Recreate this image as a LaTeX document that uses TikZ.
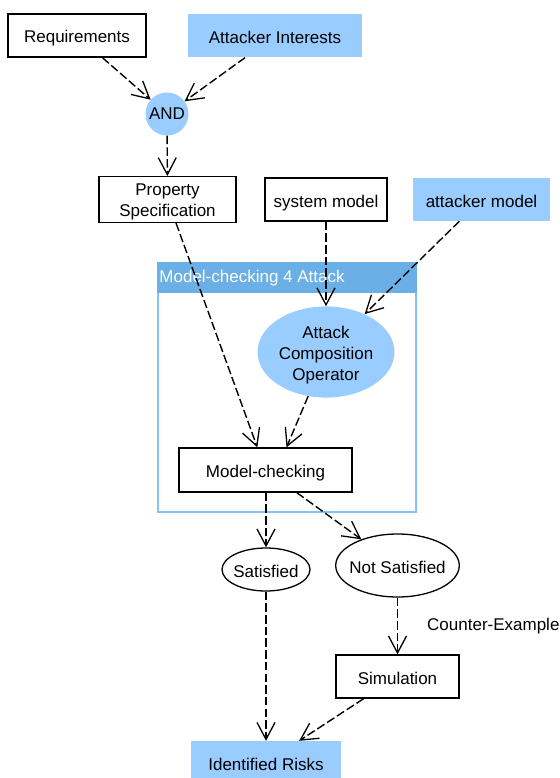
\documentclass[tikz,border=0pt]{standalone}
\usepackage{fontspec}
\setmainfont{Liberation Sans}
\usetikzlibrary{arrows.meta,shapes.geometric}

\definecolor{lightblue}{HTML}{99CCFF}
\definecolor{headblue}{HTML}{6AAFE6}
\definecolor{frameblue}{HTML}{86C2F2}

% primeira linha mais alta, para baixar o texto
\newcommand{\lineup}[1]{\rule{0pt}{#1}}

\tikzset{
    oneline/.style={text height=18.5pt, text depth=3.5pt},
    box/.style={draw, line width=1.3pt, minimum height=43pt, align=center},
    bluebox/.style={fill=lightblue, minimum height=43pt, align=center},
    oval/.style={ellipse, draw, line width=1.3pt, inner ysep=0pt, oneline},
    flow/.style={line width=1.4pt, dash pattern=on 8.5pt off 3.2pt,
        -{Straight Barb[length=17pt,width=18pt,line width=1.3pt]}}
}

\begin{document}
\begin{tikzpicture}[x=1pt, y=-1pt, inner sep=2pt, font=\fontsize{17}{21.2}\selectfont]
        \clip (0,0) rectangle (559,778);
        % Entradas
        \node[box, oneline, minimum width=138pt] (req) at (77,35.5) {Requirements};
        \node[bluebox, oneline, minimum width=174pt] (interests) at (275,36) {Attacker Interests};
        \node[circle, fill=lightblue, minimum size=43pt, inner sep=0pt] (and) at (167,114) {AND};
        \node[box, minimum width=137pt] (prop) at (167.5,199.5) {\lineup{17pt}Property\\Specification};
        \node[box, oneline, minimum width=122pt] (sysmodel) at (326,199.5) {system model};
        \node[bluebox, oneline, minimum width=137pt] (attmodel) at (481.5,199.5) {attacker model};

        % Caixa Model-checking 4 Attack
        \node[draw=frameblue, line width=1.5pt, minimum width=258pt, minimum height=249pt] (frame) at (287,387.5) {};
        \fill[headblue] (frame.north west) rectangle ([yshift=-31pt]frame.north east);
        \node[anchor=west, text=white] (frametitle) at ([yshift=-15.5pt]frame.north west) {Model-checking 4 Attack};
        \node[ellipse, fill=lightblue, minimum width=137pt, minimum height=82pt, inner sep=0pt, align=center] (aco) at (326,352) {\lineup{18.5pt}Attack\\Composition\\Operator};
        \node[box, oneline, minimum width=173pt, minimum height=44pt] (mc) at (265.5,470) {Model-checking};

        % Resultados
        \node[oval, inner xsep=-2pt, minimum width=88pt, minimum height=43pt] (sat) at (266,569.5) {Satisfied};
        \node[oval, inner xsep=-4.5pt, minimum width=123pt, minimum height=63pt] (notsat) at (397.5,565.5) {Not Satisfied};
        \node[box, oneline, minimum width=123pt] (sim) at (397.5,676.5) {Simulation};
        \node[bluebox, oneline, minimum width=150pt] (risks) at (266,762.5) {Identified Risks};

        % Ligacoes
        \draw[flow] (req) -- (and);
        \draw[flow] (interests) -- (and);
        \draw[flow] (and) -- (prop);
        \draw[flow] (prop) -- (mc);
        \draw[flow] (sysmodel) -- (aco);
        \draw[flow] (attmodel) -- (aco);
        \draw[flow] (aco.-112) -- ([xshift=21pt]mc.north);
        \draw[flow] (mc.south -| sat.north) -- (sat);
        \draw[flow] (mc) -- (notsat);
        \draw[flow] (notsat) -- (sim) node[midway, anchor=west, xshift=27pt] (celabel) {Counter-Example};
        \draw[flow] (sat) -- (sat.south |- risks.north);
        \draw[flow] (sim) -- (risks);
    \end{tikzpicture}
\end{document}
